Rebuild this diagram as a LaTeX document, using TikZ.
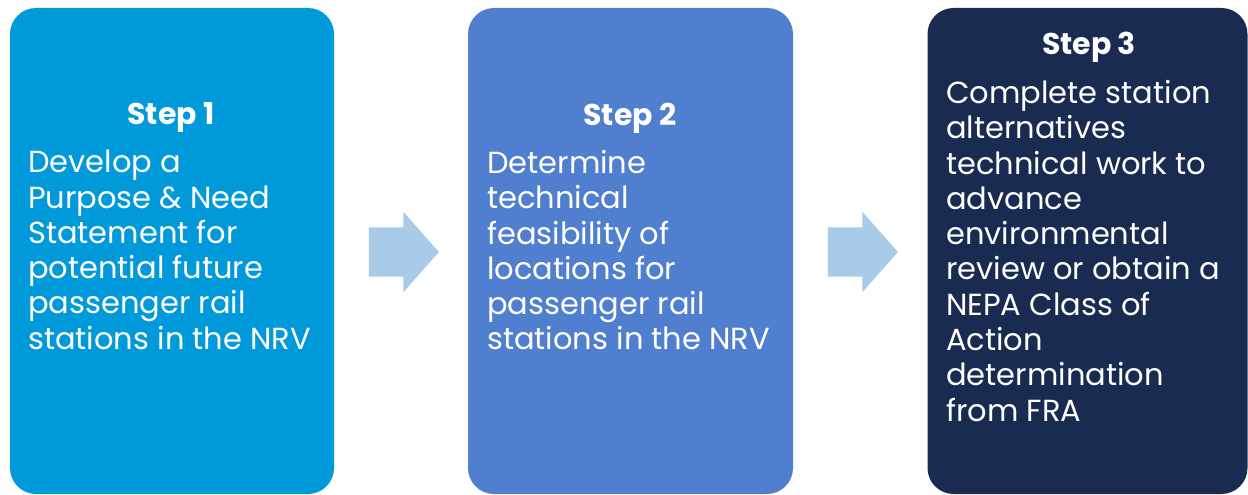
\documentclass[tikz,border=0pt]{standalone}
\usepackage{fontspec}
\setmainfont{Poppins}
\usetikzlibrary{shapes.arrows}
\definecolor{stepone}{RGB}{0,153,218}
\definecolor{steptwo}{RGB}{81,127,207}
\definecolor{stepthree}{RGB}{26,43,82}
\definecolor{arrowfill}{RGB}{169,203,234}
\tikzset{
  stepbox/.style={rounded corners=26pt, inner sep=0pt, minimum height=486pt},
  steptitle/.style={text=white, font=\fontsize{30}{34}\selectfont\bfseries, inner sep=0pt},
  steptext/.style={text=white, font=\fontsize{30.5}{35.3}\selectfont, align=left, inner sep=0pt, anchor=north west},
  flowarrow/.style={single arrow, fill=arrowfill, inner xsep=0pt, inner ysep=24.5pt, minimum height=70pt,
    single arrow head extend=15.5pt, single arrow tip angle=97}
}
\begin{document}
\begin{tikzpicture}[x=1pt, y=-1pt]
  \useasboundingbox (0,0) rectangle (1248,495);
  % the three steps
  \node[stepbox, fill=stepone, minimum width=324pt] (box1) at (172,251) {};
  \node[stepbox, fill=steptwo, minimum width=325pt] (box2) at (630.5,251) {};
  \node[stepbox, fill=stepthree, minimum width=320pt] (box3) at (1087.5,251) {};

  \node[steptitle] (title1) at (171,118) {Step 1};
  \node[steptitle] (title2) at (630,118) {Step 2};
  \node[steptitle] (title3) at (1089,47) {Step 3};

  \node[steptext] (text1) at (28,150) {Develop a\\Purpose \& Need\\Statement for\\potential future\\passenger rail\\stations in the NRV};
  \node[steptext] (text2) at (487,150) {Determine\\technical\\feasibility of\\locations for\\passenger rail\\stations in the NRV};
  \node[steptext] (text3) at (946,80) {Complete station\\alternatives\\technical work to\\advance\\environmental\\review or obtain a\\NEPA Class of\\Action\\determination\\from FRA};

  % arrows between the steps
  \node[flowarrow] (arrow1) at (393,252) {};
  \node[flowarrow] (arrow2) at (852,252) {};
\end{tikzpicture}
\end{document}
